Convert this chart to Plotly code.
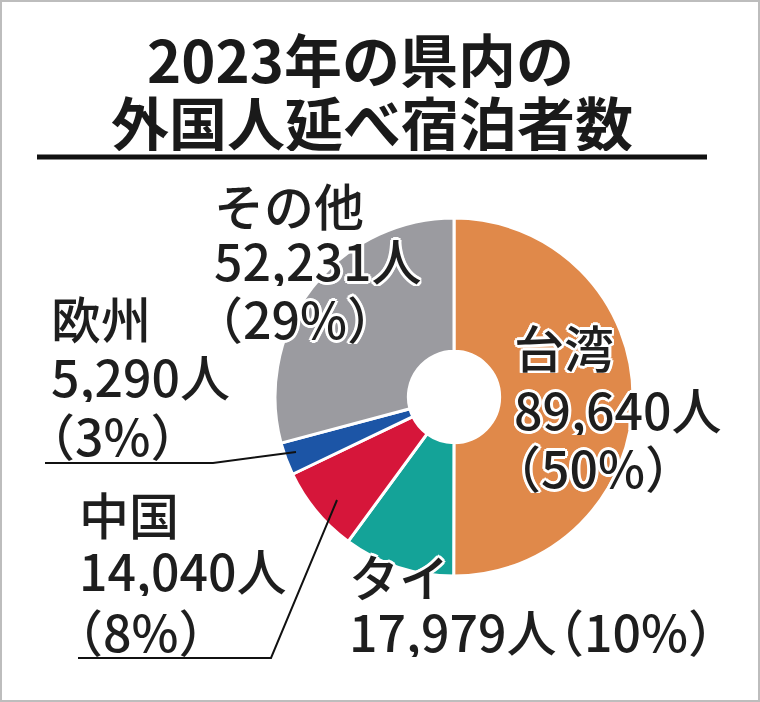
import plotly.graph_objects as go

# Data
regions = ["台湾", "タイ", "中国", "欧州", "その他"]
counts = [89640, 17979, 14040, 5290, 52231]
shares = ["50%", "10%", "8%", "3%", "29%"]
colors = ["#E0894A", "#14A398", "#D6163A", "#1C55A6", "#9B9BA0"]

title_lines = ["2023年の県内の", "外国人延べ宿泊者数"]

W, H = 760, 702

def px(x):
    return x / W

def py(y):
    return 1 - y / H

# pie geometry (pixels)
cx, cy, r = 454, 397, 179

fig = go.Figure()
fig.add_trace(go.Pie(
    labels=regions,
    values=counts,
    sort=False,
    direction="clockwise",
    rotation=0,
    hole=0.255,
    textinfo="none",
    hoverinfo="skip",
    marker=dict(colors=colors, line=dict(color="white", width=3)),
    domain=dict(x=[px(cx - r), px(cx + r)], y=[py(cy + r), py(cy - r)]),
    showlegend=False,
))

halo = ", ".join(f"{dx}px {dy}px 0 #fff" for dx, dy in
                 [(3, 0), (-3, 0), (0, 3), (0, -3), (2, 2), (-2, -2), (2, -2), (-2, 2)])
FONT = "Noto Sans CJK JP"
TXT = "#1e1e1e"
LS = 50  # label font size

ann = []
def label(text, x, y, size=LS, anchor="left"):
    ann.append(dict(text=text, x=px(x), y=py(y), xref="paper", yref="paper",
                    xanchor=anchor, yanchor="middle", showarrow=False,
                    height=54, borderpad=0,
                    font=dict(family=FONT, size=size, color=TXT, shadow=halo, weight=500)))

fmt = lambda v: f"{v:,}人"
pct = lambda s: f"（{s}）"

# title
for i, (t, x, y) in enumerate(zip(title_lines, [360, 372], [58, 121])):
    ann.append(dict(text=t, x=px(x), y=py(y), xref="paper", yref="paper",
                    xanchor="center", yanchor="middle", showarrow=False,
                    height=60, borderpad=0,
                    font=dict(family=FONT, size=58, color="#1a1a1a", weight="bold")))

# 台湾
label(regions[0], 513, 346)
label(fmt(counts[0]), 513, 408)
label(pct(shares[0]), 490, 466)
# タイ
label(regions[1], 348, 575)
label(fmt(counts[1]), 348, 630)
label(pct(shares[1]), 739, 630, anchor="right")
# 中国
label(regions[2], 78, 513)
label(fmt(counts[2]), 78, 569)
label(pct(shares[2]), 52, 630)
# 欧州
label(regions[3], 50, 317)
label(fmt(counts[3]), 50, 375)
label(pct(shares[3]), 24, 434)
# その他
label(regions[4], 213, 204)
label(fmt(counts[4]), 213, 259)
label(pct(shares[4]), 192, 317)

shapes = [
    # title rule
    dict(type="line", xref="paper", yref="paper", x0=px(37), x1=px(707), y0=py(157), y1=py(157),
         line=dict(color="#111", width=5)),
    # frame
    dict(type="rect", xref="paper", yref="paper", x0=px(1), x1=px(759), y0=py(701), y1=py(1),
         line=dict(color="#bdbdbd", width=2)),
    # leader 欧州
    dict(type="path", xref="paper", yref="paper",
         path=f"M {px(45)} {py(463)} L {px(213)} {py(463)} L {px(296)} {py(452)}",
         line=dict(color="#111", width=2)),
    # leader 中国
    dict(type="path", xref="paper", yref="paper",
         path=f"M {px(78)} {py(658)} L {px(271)} {py(658)} L {px(337)} {py(500)}",
         line=dict(color="#111", width=2)),
]

fig.update_layout(
    width=W, height=H,
    margin=dict(l=0, r=0, t=0, b=0),
    paper_bgcolor="white", plot_bgcolor="white",
    annotations=ann, shapes=shapes,
)

fig.write_html("out.html")
